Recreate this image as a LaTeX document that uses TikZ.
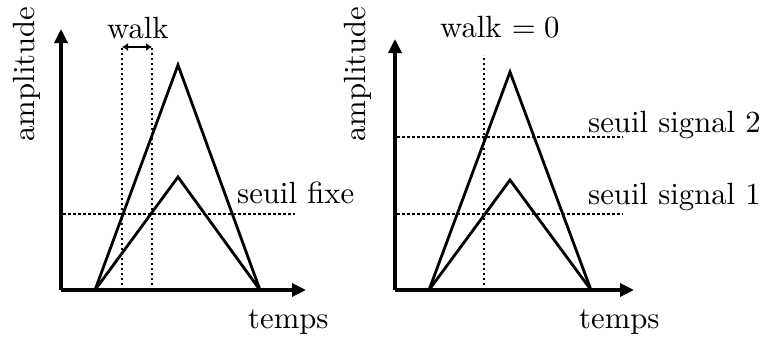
\documentclass[tikz,border=0pt]{standalone}
\usetikzlibrary{arrows.meta}
\usepackage{graphicx}
\newcommand{\bigtxt}[1]{\scalebox{3.07}{#1}}
\begin{document}
\begin{tikzpicture}[x=1pt,y=-1pt,
  axis/.style={line width=3.3pt,-{Triangle[length=14pt,width=13pt]}},
  sig/.style={line width=2.8pt,line join=miter},
  thr/.style={line width=2.5pt,dash pattern=on 2.5pt off 2.5pt},
  lbl/.style={inner sep=0pt,anchor=base west,font=\normalsize},
  vlbl/.style={inner sep=0pt,rotate=90,font=\normalsize}]
\useasboundingbox (0,0) rectangle (765,338);
% ---------- left panel ----------
\coordinate (O1) at (61,290);
\coordinate (X1) at (306,290);
\coordinate (Y1) at (61,29);
\coordinate (a1) at (95,290);
\coordinate (p1) at (178,65);
\coordinate (q1) at (178,177);
\coordinate (b1) at (260,290);
\coordinate (t1s) at (63,214);
\coordinate (t1e) at (295,214);
\coordinate (v1t) at (122,47);
\coordinate (v1b) at (122,290);
\coordinate (v2t) at (152,47);
\coordinate (v2b) at (152,290);
\draw[thr] (t1s) -- (t1e);
\draw[thr] (v1b) -- (v1t);
\draw[thr] (v2b) -- (v2t);
\draw[line width=2.5pt,{Latex[length=6pt,width=8pt]}-{Latex[length=6pt,width=8pt]}] (v1t) -- (v2t);
\draw[sig] (a1) -- (p1) -- (b1);
\draw[sig] (a1) -- (q1) -- (b1);
\draw[axis] (O1) -- (X1);
\draw[axis] (O1) -- (Y1);
\node[lbl] (walk1) at (107,38) {\bigtxt{walk}};
\node[lbl] (sf) at (237,203) {\bigtxt{seuil fixe}};
\node[lbl] (temps1) at (248,328) {\bigtxt{temps}};
\node[vlbl] (amp1) at (27,74) {\bigtxt{amplitude}};
% ---------- right panel ----------
\coordinate (O2) at (395,290);
\coordinate (X2) at (634,290);
\coordinate (Y2) at (395,39);
\coordinate (a2) at (429,290);
\coordinate (p2) at (510,72);
\coordinate (q2) at (510,180);
\coordinate (b2) at (591,290);
\coordinate (s2s) at (397,137);
\coordinate (s2e) at (623,137);
\coordinate (s1s) at (397,214);
\coordinate (s1e) at (623,214);
\coordinate (vt) at (484,55);
\coordinate (vb) at (484,290);
\draw[thr] (s2s) -- (s2e);
\draw[thr] (s1s) -- (s1e);
\draw[thr] (vb) -- (vt);
\draw[sig] (a2) -- (p2) -- (b2);
\draw[sig] (a2) -- (q2) -- (b2);
\draw[axis] (O2) -- (X2);
\draw[axis] (O2) -- (Y2);
\node[lbl] (walk2) at (440,37) {\bigtxt{walk $=0$}};
\node[lbl] (ss2) at (588,132) {\bigtxt{seuil signal 2}};
\node[lbl] (ss1) at (588,204) {\bigtxt{seuil signal 1}};
\node[lbl] (temps2) at (579,328) {\bigtxt{temps}};
\node[vlbl] (amp2) at (358,74) {\bigtxt{amplitude}};
\end{tikzpicture}
\end{document}
